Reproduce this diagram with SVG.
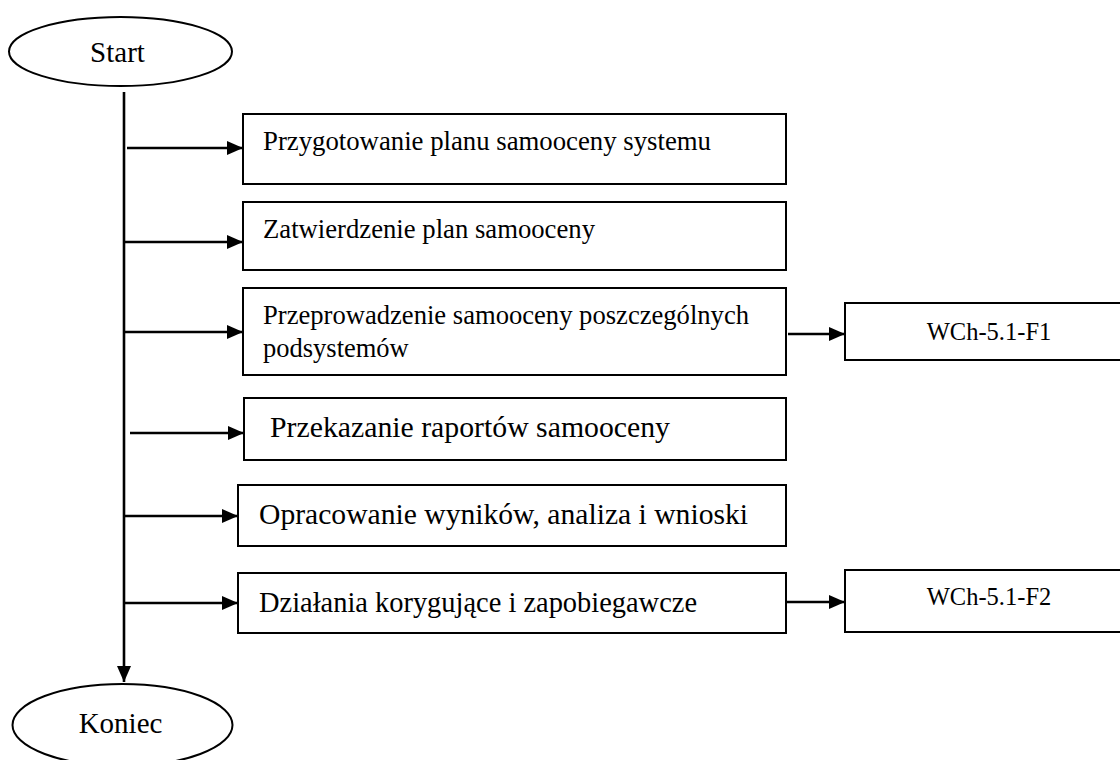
<svg xmlns="http://www.w3.org/2000/svg" width="1120" height="760" viewBox="0 0 1120 760">
<style>
  .box { fill: #fff; stroke: #000; stroke-width: 2; }
  .term { fill: #fff; stroke: #000; stroke-width: 2; }
  .t { font-family: "Liberation Serif", "Times New Roman", serif; fill: #000; }
  .s1 { font-size: 26.5px; }
  .s2 { font-size: 29px; }
  .s3 { font-size: 24.5px; }
  .conn line { stroke: #000; stroke-width: 2.6; fill: none; }
</style>
<defs>
  <marker id="ah" viewBox="0 0 16 14" refX="16" refY="7" markerWidth="16" markerHeight="14" markerUnits="userSpaceOnUse" orient="auto">
    <path d="M0,0 L16,7 L0,14 Z" fill="#000"/>
  </marker>
</defs>
<rect width="1120" height="760" fill="#fff"/>

<g id="start">
  <ellipse class="term" cx="120.5" cy="51.5" rx="111.5" ry="34.5"/>
  <text class="t s2" x="117.5" y="62" text-anchor="middle">Start</text>
</g>

<g id="koniec">
  <ellipse class="term" cx="122.5" cy="725" rx="110" ry="41"/>
  <text class="t s2" x="120.5" y="733" text-anchor="middle">Koniec</text>
</g>

<g id="n1">
  <rect class="box" x="243" y="114" width="543" height="70"/>
  <text class="t s1" x="263" y="150" textLength="448" lengthAdjust="spacingAndGlyphs">Przygotowanie planu samooceny systemu</text>
</g>
<g id="n2">
  <rect class="box" x="243" y="202" width="543" height="68"/>
  <text class="t s1" x="263" y="238" textLength="332" lengthAdjust="spacingAndGlyphs">Zatwierdzenie plan samooceny</text>
</g>
<g id="n3">
  <rect class="box" x="243" y="288" width="543" height="87"/>
  <text class="t s1" x="263" y="324" textLength="486" lengthAdjust="spacingAndGlyphs">Przeprowadzenie samooceny poszczególnych</text>
  <text class="t s1" x="263" y="357">podsystemów</text>
</g>
<g id="n4">
  <rect class="box" x="244" y="398" width="542" height="62"/>
  <text class="t s2" x="270" y="437" textLength="400" lengthAdjust="spacingAndGlyphs">Przekazanie raportów samooceny</text>
</g>
<g id="n5">
  <rect class="box" x="238" y="485" width="548" height="61"/>
  <text class="t s2" x="259" y="524" textLength="489" lengthAdjust="spacingAndGlyphs">Opracowanie wyników, analiza i wnioski</text>
</g>
<g id="n6">
  <rect class="box" x="238" y="573" width="548" height="60"/>
  <text class="t s2" x="259" y="612" textLength="438" lengthAdjust="spacingAndGlyphs">Działania korygujące i zapobiegawcze</text>
</g>
<g id="f1">
  <rect class="box" x="845" y="303" width="290" height="57"/>
  <text class="t s3" x="989" y="340" text-anchor="middle">WCh-5.1-F1</text>
</g>
<g id="f2">
  <rect class="box" x="845" y="570" width="290" height="62"/>
  <text class="t s3" x="989" y="605" text-anchor="middle">WCh-5.1-F2</text>
</g>

<g id="connectors" class="conn">
  <line x1="124" y1="92" x2="124" y2="682" marker-end="url(#ah)"/>
  <line x1="127" y1="148" x2="243" y2="148" marker-end="url(#ah)"/>
  <line x1="125" y1="242" x2="243" y2="242" marker-end="url(#ah)"/>
  <line x1="125" y1="332" x2="243" y2="332" marker-end="url(#ah)"/>
  <line x1="130" y1="433" x2="244" y2="433" marker-end="url(#ah)"/>
  <line x1="124" y1="516" x2="238" y2="516" marker-end="url(#ah)"/>
  <line x1="124" y1="603" x2="238" y2="603" marker-end="url(#ah)"/>
  <line x1="788" y1="334" x2="845" y2="334" marker-end="url(#ah)"/>
  <line x1="786" y1="602" x2="845" y2="602" marker-end="url(#ah)"/>
</g>
</svg>
